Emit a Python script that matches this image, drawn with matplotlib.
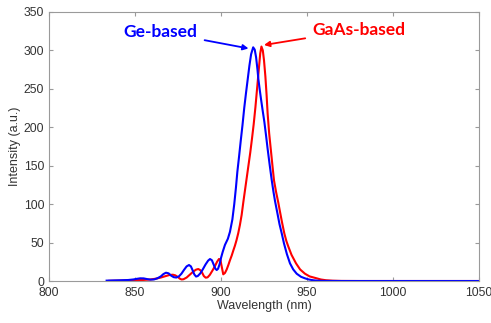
import matplotlib.pyplot as plt

# Espectros (comprimento de onda em nm, intensidade em u.a.)
wl_ge = [833.5, 838, 842, 846, 849, 851, 853, 855, 857, 859, 861, 863, 865,
         866.5, 868, 869.5, 871, 872.5, 874, 875.5, 877, 878.5, 880, 881.4,
         882.5, 883.5, 884.5, 885.5, 886.5, 888, 889.5, 891, 892.5, 893.6,
         894.7, 895.8, 896.7, 897.5, 898.3, 899.2, 900, 901, 902.3, 904,
         905.2, 906.6, 907.7, 908.7, 909.5, 910.5, 911.5, 912.5, 913.5,
         914.5, 915.5, 916.5, 917.5, 918.7, 919.6, 920.4, 921.2, 921.7,
         922.5, 923.3, 924.2, 925.2, 926.2, 927.1, 928.3, 929.5, 930.5,
         931.4, 932.8, 934, 935.3, 936.6, 938.3, 940.1, 942, 944, 946.5,
         948.8, 951, 953.5, 956, 960, 970, 1050]
int_ge = [0.5, 0.8, 1.0, 1.3, 2.0, 2.8, 3.5, 3.4, 2.5, 1.8, 2.0, 3.5, 6.0,
          9.0, 10.8, 10.0, 7.0, 5.0, 4.5, 6.0, 9.5, 14.5, 19.0, 20.8,
          19.0, 14.0, 8.5, 5.8, 6.5, 10.0, 15.5, 21.5, 26.5, 28.6,
          27.0, 21.0, 16.0, 14.3, 16.0, 22.0, 30, 38, 47, 55,
          64, 80, 100, 122, 142, 162, 183, 203, 225,
          244, 262, 280, 295, 304, 301, 291, 275, 263,
          249, 236, 222, 207, 189, 172, 151, 131, 116,
          104, 88, 74, 62, 49, 35, 23, 15, 9.5, 5.5,
          3.5, 2, 1, 0.4, 0.1, 0, 0]

wl_gaas = [835, 840, 845, 850, 855, 859, 862, 865, 868, 870, 872, 873.5, 875,
           876.2, 877.1, 878.2, 880, 882, 884, 885.5, 886.8, 888, 889, 890,
           891.1, 892.2, 893.5, 895, 896.5, 897.7, 898.8, 899.6, 900.3, 901.3,
           902.3, 903.3, 904.3, 905.2, 906.2, 907.2, 908.1, 909, 910, 911,
           912, 913, 914, 915, 916, 917, 918, 919, 920, 921, 922, 922.8,
           923.5, 924.3, 925, 925.8, 926.5, 927.1, 928, 929, 930, 930.8, 932,
           933.3, 934.3, 935.5, 936.8, 938, 939.1, 941, 943.6, 946, 948.8,
           951.5, 955.6, 958, 961, 965, 970, 980, 1050]
int_gaas = [0.2, 0.4, 0.7, 1.0, 1.4, 2.0, 3.0, 4.5, 6.5, 7.8, 8.2, 7.3, 5.0,
            2.8, 2.0, 2.3, 4.5, 8.5, 12.5, 14.8, 15.6, 14.0, 11.0, 6.5,
            4.3, 4.8, 8.0, 13.5, 19.5, 25.0, 28.6, 28.0, 20.0, 8.7,
            10.5, 15.0, 21.0, 27.0, 33.0, 40.0, 46.0, 53.0, 62.0, 73.0,
            86, 103, 119, 135, 151, 167, 185, 204, 226, 251, 276, 296,
            305, 300, 287, 266, 242, 218, 192, 170, 148, 131, 116,
            102, 90, 76, 62, 52, 45, 34, 23, 15, 9.5,
            6, 3.5, 2, 1, 0.4, 0.1, 0, 0]

fig = plt.figure(figsize=(4.91, 3.23), dpi=100)
ax = fig.add_axes([0.0998, 0.130, 0.8758, 0.833])

ax.plot(wl_gaas, int_gaas, color='#ff0000', lw=1.5)
ax.plot(wl_ge, int_ge, color='#0000ff', lw=1.5)

ax.set_xlim(800, 1050)
ax.set_ylim(0, 350)
ax.set_xticks(range(800, 1051, 50))
ax.set_yticks(range(0, 351, 50))

ax.tick_params(direction='in', top=True, right=True, length=3,
               colors='#9a9a9a', labelcolor='#333333', labelsize=8.7,
               labelfontfamily='Liberation Sans')
ax.tick_params(axis='x', pad=4.5)
for s in ax.spines.values():
    s.set_color('#9a9a9a')
    s.set_linewidth(0.8)

ax.set_xlabel('Wavelength (nm)', fontsize=9, color='#333333',
              family='Liberation Sans', labelpad=0.5)
ax.set_ylabel('Intensity (a.u.)', fontsize=9, color='#333333',
              family='Liberation Sans', labelpad=2)

# Anotações com setas
ax.annotate('Ge-based', xy=(916, 302.5), xytext=(865, 324),
            ha='center', va='center', color='#0000ff', fontsize=12.5,
            fontweight='bold', family='Lato',
            arrowprops=dict(arrowstyle='-|>', color='#0000ff', lw=1.3,
                            mutation_scale=8, shrinkA=3, shrinkB=0))
ax.annotate('GaAs-based', xy=(925, 307), xytext=(980, 327),
            ha='center', va='center', color='#ff0000', fontsize=12.5,
            fontweight='bold', family='Lato',
            arrowprops=dict(arrowstyle='-|>', color='#ff0000', lw=1.3,
                            mutation_scale=8, shrinkA=3, shrinkB=0))

fig.savefig('out.png', dpi=100)
